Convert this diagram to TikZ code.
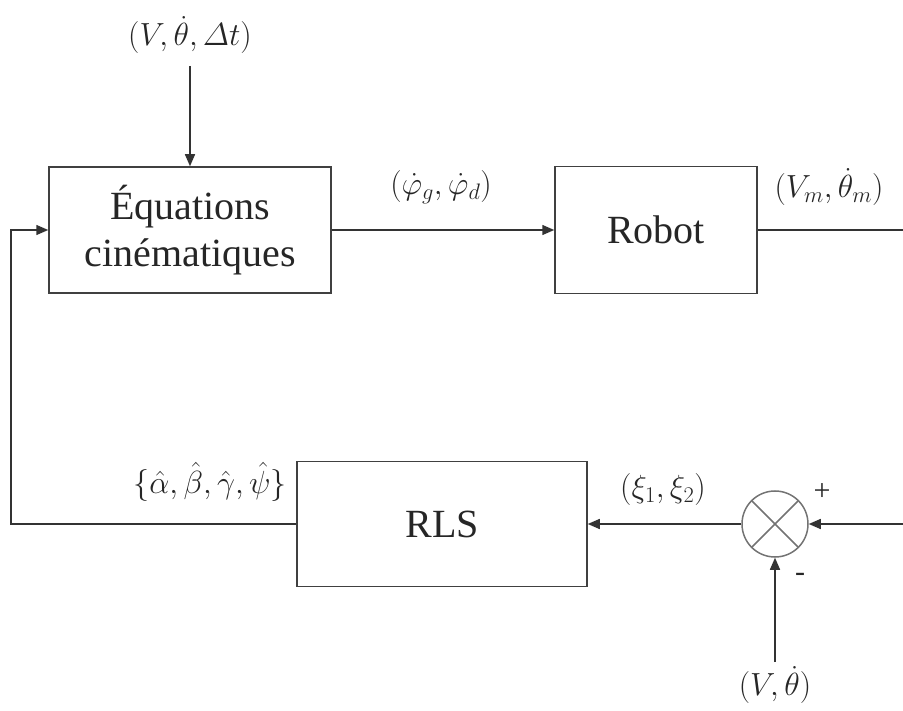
\documentclass[tikz,border=0pt]{standalone}
\usepackage{fix-cm}
\usepackage{amsmath}
\usepackage{fontspec}
\setmainfont{Liberation Serif}
\usetikzlibrary{arrows.meta}
\begin{document}
\begin{tikzpicture}[x=1pt,y=-1pt, line width=1.5pt,
  wire/.style={draw=black!80},
  blk/.style={draw=black!75, rectangle, inner sep=0pt, font=\fontsize{40}{47}\selectfont, align=center, text=black!85},
  lbl/.style={font=\fontsize{32}{37}\selectfont, inner sep=0pt, text=black!85},
  sgn/.style={font=\fontsize{30}{34}\selectfont, inner sep=0pt, text=black!85},
  arr/.style={wire, -{Triangle[length=12pt,width=10pt]}}]
\useasboundingbox (0,0) rectangle (903,711);
% blocks
\node[blk, minimum width=282pt, minimum height=126pt] (eq) at (190,230) {Équations\\cinématiques};
\node[blk, minimum width=202pt, minimum height=127pt] (robot) at (656,230) {Robot};
\node[blk, minimum width=290pt, minimum height=125pt] (rls) at (442,524) {RLS};
\node[draw=black!55, circle, minimum size=66pt, inner sep=0pt] (sum) at (775,524) {};
\draw[black!55] (sum.45) -- (sum.225) (sum.135) -- (sum.315);
% free ends
\coordinate (top) at (190,66);
\coordinate (outR) at (903,230);
\coordinate (fbk) at (11,524);
\coordinate (inR) at (903,524);
\coordinate (inB) at (775,662);
% connectors
\draw[arr] (top) -- (eq.north);
\draw[arr] (eq.east) -- (robot.west);
\draw[wire] (robot.east) -- (outR);
\draw[arr] (inR) -- (sum.east);
\draw[arr] (inB) -- (sum.south);
\draw[arr] (sum.west) -- (rls.east);
\draw[arr] (rls.west) -- (fbk) |- (eq.west);
% labels
\node[lbl] (l1) at (190,35) {$(V,\dot\theta,\varDelta t)$};
\node[lbl] (l2) at (441,187) {$(\dot\varphi_g,\dot\varphi_d)$};
\node[lbl] (l3) at (829,187) {$(V_m,\dot\theta_m)$};
\node[lbl] (l4) at (210,482) {$\{\hat\alpha,\hat\beta,\hat\gamma,\hat\psi\}$};
\node[lbl] (l5) at (663,490) {$(\xi_1,\xi_2)$};
\node[lbl] (l6) at (775,685) {$(V,\dot\theta)$};
\node[sgn] (plus) at (822,492) {+};
\node[sgn] (minus) at (800,577) {-};
\end{tikzpicture}
\end{document}
